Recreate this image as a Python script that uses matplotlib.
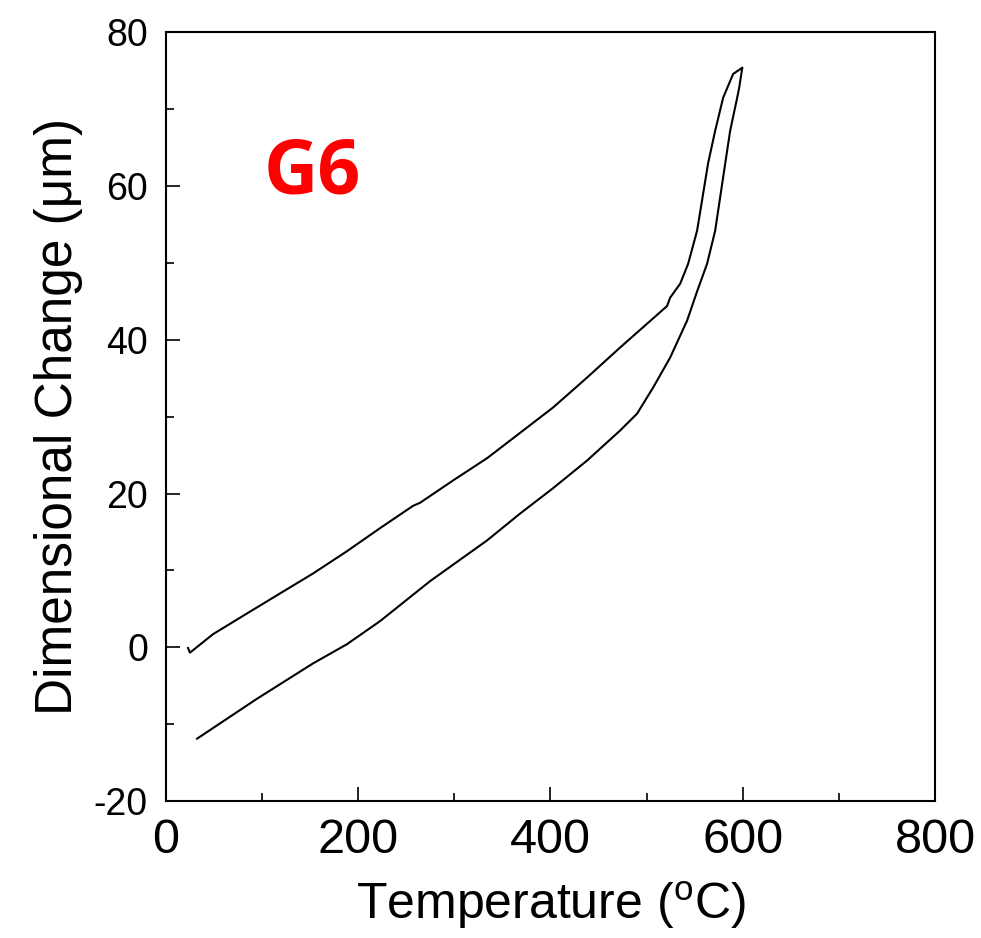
import numpy as np
import matplotlib
matplotlib.use("Agg")
import matplotlib.pyplot as plt
from matplotlib.ticker import MultipleLocator

plt.rcParams['font.family'] = ['Liberation Sans', 'DejaVu Sans']
plt.rcParams['axes.unicode_minus'] = False

# heating branch (lower curve)
heat_T = [32.3, 94.7, 153.0, 188.3, 222.7, 274.7, 334.0, 368.4, 402.7, 438.1,
          472.4, 490.1, 506.8, 524.5, 542.1, 552.5, 562.9, 571.3, 581.7, 586.9,
          594.2, 596.3, 599.4]
heat_dL = [-11.9, -6.7, -2.1, 0.4, 3.4, 8.6, 13.9, 17.4, 20.7, 24.3,
           28.2, 30.4, 33.8, 37.7, 42.5, 46.3, 49.9, 54.2, 62.9, 67.2,
           71.5, 72.8, 75.3]

# cooling branch (upper curve)
cool_T = [599.4, 590.0, 579.6, 571.3, 564.0, 552.5, 543.2, 534.9, 524.5, 521.3,
          506.8, 472.4, 438.1, 402.7, 368.4, 334.0, 298.6, 264.3, 257.0, 222.7,
          188.3, 153.0, 118.6, 84.3, 48.9, 25.0, 22.9]
cool_dL = [75.4, 74.6, 71.5, 67.2, 63.0, 54.2, 49.9, 47.3, 45.5, 44.4,
           42.8, 39.0, 35.1, 31.2, 27.9, 24.6, 21.7, 18.8, 18.4, 15.5,
           12.5, 9.6, 7.0, 4.4, 1.7, -0.7, -0.1]

fig = plt.figure(figsize=(9.81, 9.38), dpi=100)
ax = fig.add_axes([0.1692, 0.1461, 0.7839, 0.8193])

ax.plot(heat_T, heat_dL, color='black', lw=1.5)
ax.plot(cool_T, cool_dL, color='black', lw=1.5)

ax.set_xlim(0, 800)
ax.set_ylim(-20, 80)
ax.xaxis.set_major_locator(MultipleLocator(200))
ax.xaxis.set_minor_locator(MultipleLocator(100))
ax.yaxis.set_major_locator(MultipleLocator(20))
ax.yaxis.set_minor_locator(MultipleLocator(10))
ax.tick_params(which='both', direction='in', width=1.2)
ax.tick_params(which='major', length=10)
ax.tick_params(which='minor', length=5.5)
ax.tick_params(axis='x', labelsize=35, pad=12)
ax.tick_params(axis='y', labelsize=27, pad=13)
for s in ax.spines.values():
    s.set_linewidth(1.5)

ax.set_xlabel(r'Temperature ($\mathregular{^o}$C)', fontsize=36, labelpad=12)
ax.set_ylabel('Dimensional Change (μm)', fontsize=37, labelpad=8)

ax.text(0.127, 0.816, 'G6', transform=ax.transAxes, color='red',
        fontsize=54, fontweight='bold', family=['Open Sans', 'DejaVu Sans'],
        ha='left', va='center')

fig.savefig('out.png', dpi=100)
